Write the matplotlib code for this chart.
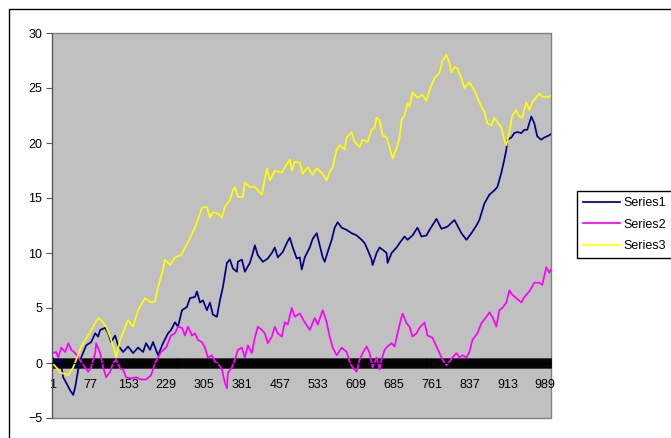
import matplotlib
matplotlib.use("Agg")
import matplotlib.pyplot as plt
from matplotlib.patches import Rectangle
import numpy as np

plt.rcParams['font.family'] = ['Liberation Sans', 'DejaVu Sans']

n_steps = 1000
tick_labels = [1, 77, 153, 229, 305, 381, 457, 533, 609, 685, 761, 837, 913, 989]

s1_steps = [1, 9, 17, 23, 29, 37, 43, 47, 53, 59, 69, 79, 87, 93, 97, 107, 113, 119, 127, 133,
            143, 153, 163, 173, 183, 189, 197, 203, 213, 223, 233, 239, 247, 253, 261, 271, 277,
            287, 291, 297, 303, 311, 317, 323, 331, 337, 343, 351, 357, 363, 371, 373, 381, 387,
            397, 403, 407, 413, 423, 433, 441, 447, 453, 463, 471, 477, 483, 491, 497, 501, 507,
            517, 523, 531, 537, 543, 547, 553, 561, 567, 573, 581, 591, 601, 611, 621, 627, 633,
            641, 643, 651, 657, 663, 671, 673, 681, 691, 697, 707, 713, 723, 733, 741, 751, 757,
            771, 781, 793, 807, 821, 831, 841, 851, 857, 867, 877, 887, 893, 901, 907, 911, 913,
            921, 927, 933, 941, 947, 953, 961, 967, 973, 981, 987, 997, 1000]
s1_vals = [0.5, 0.1, 0.3, -1.3, -1.8, -2.5, -2.9, -2.2, -0.6, 0.5, 1.6, 1.9, 2.7, 2.4, 3.0, 3.2,
           2.7, 1.9, 2.5, 1.6, 1.0, 1.5, 0.9, 1.4, 1.0, 1.8, 1.2, 1.9, 0.7, 1.8, 2.7, 3.0, 3.7,
           3.3, 4.8, 5.1, 5.9, 6.0, 6.5, 5.5, 5.7, 4.8, 5.5, 4.4, 4.2, 5.7, 6.9, 9.1, 9.4, 8.6,
           8.3, 9.2, 9.4, 8.3, 9.1, 10.0, 10.7, 9.8, 9.2, 9.5, 10.0, 10.5, 9.6, 10.1, 10.9, 11.4,
           10.5, 9.5, 9.6, 8.5, 9.6, 10.5, 11.3, 11.8, 10.7, 9.6, 9.2, 10.1, 11.2, 12.3, 12.8,
           12.3, 12.1, 11.8, 11.6, 11.2, 10.9, 10.3, 9.4, 8.9, 10.0, 10.5, 10.3, 10.0, 9.1, 10.0,
           10.5, 10.9, 11.5, 11.2, 11.6, 12.3, 11.5, 11.6, 12.1, 13.1, 12.2, 12.4, 13.0, 11.8,
           11.2, 11.8, 12.5, 13.0, 14.5, 15.3, 15.7, 16.0, 17.3, 18.5, 19.4, 20.3, 20.5, 20.9,
           21.0, 20.9, 21.2, 21.2, 22.4, 21.8, 20.6, 20.3, 20.5, 20.7, 20.8]

s2_steps = [1, 9, 13, 19, 27, 33, 39, 47, 53, 59, 67, 73, 79, 87, 89, 97, 103, 109, 117, 123,
            129, 137, 143, 149, 159, 169, 179, 189, 199, 207, 213, 219, 229, 239, 247, 253, 261,
            267, 273, 281, 287, 293, 301, 307, 313, 321, 327, 333, 341, 347, 351, 353, 361, 367,
            373, 381, 387, 393, 401, 407, 413, 421, 427, 433, 441, 447, 453, 461, 467, 473, 481,
            487, 497, 507, 517, 527, 533, 543, 551, 557, 563, 571, 581, 591, 597, 603, 611, 617,
            623, 631, 637, 643, 651, 657, 661, 667, 673, 681, 687, 693, 701, 703, 711, 717, 723,
            731, 737, 747, 753, 763, 771, 777, 783, 791, 797, 803, 811, 817, 823, 831, 837, 843,
            853, 861, 871, 877, 883, 891, 897, 903, 911, 917, 923, 931, 941, 947, 957, 967, 977,
            983, 991, 997, 1000]
s2_vals = [0.9, 1.0, 0.5, 1.4, 1.0, 1.8, 1.2, 0.9, 0.5, 0.1, -0.4, -0.8, -0.4, 0.9, 1.8, 0.9,
           -0.4, -1.3, -0.8, 0.0, 0.3, -0.5, -0.6, -1.3, -1.4, -1.3, -1.5, -1.5, -1.1, 0.0, 0.5,
           1.0, 1.4, 2.5, 2.7, 3.3, 3.2, 2.5, 3.3, 2.5, 2.7, 2.1, 1.9, 1.4, 0.5, 0.7, 0.1, 0.0,
           -0.6, -1.8, -2.3, -0.9, -0.4, 0.3, 1.2, 1.4, 0.5, 1.6, 0.9, 2.3, 3.3, 3.0, 2.7, 1.8,
           2.4, 3.3, 2.7, 2.4, 3.7, 3.5, 5.0, 4.2, 4.5, 3.7, 3.0, 4.1, 3.5, 4.8, 3.7, 2.4, 1.4,
           0.7, 1.4, 1.0, 0.1, -0.4, -0.8, 0.3, 0.9, 1.5, 0.9, -0.4, 0.5, -0.6, 0.3, 1.2, 1.5,
           1.8, 1.5, 2.7, 4.2, 4.5, 3.6, 3.3, 2.4, 2.7, 3.2, 3.7, 2.5, 2.3, 1.5, 0.9, 0.3, -0.2,
           0.1, 0.5, 0.9, 0.5, 0.7, 0.5, 1.0, 2.1, 2.7, 3.6, 4.2, 4.6, 4.2, 3.3, 4.8, 5.0, 5.5,
           6.6, 6.2, 5.9, 5.5, 6.0, 6.5, 7.3, 7.3, 7.1, 8.7, 8.2, 8.5]

s3_steps = [1, 19, 33, 43, 49, 59, 73, 93, 99, 109, 117, 127, 129, 137, 153, 163, 173, 187, 199,
            207, 213, 223, 227, 237, 247, 259, 273, 287, 301, 311, 317, 323, 333, 341, 347, 357,
            363, 367, 373, 383, 387, 397, 407, 421, 431, 437, 447, 461, 467, 477, 481, 487, 497,
            503, 513, 523, 531, 541, 551, 557, 563, 571, 577, 587, 591, 601, 607, 617, 623, 633,
            641, 647, 651, 657, 663, 671, 677, 683, 691, 697, 701, 707, 713, 717, 723, 733, 743,
            751, 757, 767, 777, 783, 791, 797, 801, 807, 813, 821, 827, 837, 847, 853, 861, 867,
            873, 881, 887, 893, 901, 907, 911, 917, 923, 931, 937, 943, 951, 957, 963, 977, 983,
            997, 1000]
s3_vals = [0.0, -0.9, -1.1, -0.4, 0.3, 1.5, 2.5, 4.1, 3.9, 3.3, 2.4, 1.0, 0.5, 2.1, 3.9, 3.3,
           4.8, 5.9, 5.5, 5.6, 6.9, 8.5, 9.4, 8.9, 9.6, 9.8, 11.0, 12.3, 14.1, 14.2, 13.2, 13.7,
           13.6, 13.2, 14.2, 14.8, 15.7, 16.0, 15.1, 15.1, 16.4, 16.0, 16.0, 15.3, 17.7, 16.6,
           17.5, 17.3, 17.8, 18.5, 17.5, 18.3, 18.2, 17.2, 17.8, 17.1, 17.7, 17.3, 16.6, 17.4,
           17.8, 19.4, 19.8, 19.4, 20.5, 21.0, 20.1, 19.6, 20.3, 20.1, 21.2, 21.4, 22.3, 22.1,
           20.7, 20.5, 19.6, 18.6, 19.5, 20.5, 22.1, 22.5, 23.6, 23.3, 24.6, 24.1, 24.4, 23.8,
           24.8, 25.9, 26.4, 27.5, 28.0, 27.3, 26.4, 26.9, 26.8, 25.9, 25.0, 25.5, 24.8, 24.1,
           23.3, 22.8, 21.8, 21.6, 22.3, 21.9, 21.4, 20.3, 19.8, 21.0, 22.5, 23.0, 22.4, 22.3,
           23.7, 23.0, 23.7, 24.5, 24.2, 24.2, 24.3]

series = [("Series1", s1_steps, s1_vals, "#000080"),
          ("Series2", s2_steps, s2_vals, "#FF00FF"),
          ("Series3", s3_steps, s3_vals, "#FFFF00")]

fig = plt.figure(figsize=(6.71, 4.38), dpi=100)
fig.patch.set_facecolor("white")

# outer chart frame
fig.patches.append(Rectangle((8.5 / 671, -0.2), 1.2, 1.2 - 8.5 / 438, transform=fig.transFigure,
                             fill=False, edgecolor="black", linewidth=1, clip_on=False))

ax = fig.add_axes([52 / 671, 1 - 418 / 438, 499 / 671, 385 / 438])
ax.set_facecolor("#C0C0C0")
ax.patch.set_edgecolor("#808080")
ax.patch.set_linewidth(1)

for name, xs, ys, col in series:
    ax.plot(xs, ys, color=col, lw=1.25, label=name)

ax.set_xlim(0.5, n_steps + 0.5)
ax.set_ylim(-5, 30)
ax.set_yticks(np.arange(-5, 31, 5))

ax.spines['top'].set_visible(False)
ax.spines['right'].set_visible(False)
ax.spines['left'].set_color("#555555")
ax.spines['bottom'].set_position(('data', 0))
ax.spines['bottom'].set_color("black")

ax.set_xticks(tick_labels)
ax.set_xticklabels([str(t) for t in tick_labels])
ax.set_xticks(np.arange(1, n_steps + 1), minor=True)
ax.tick_params(axis='x', which='both', direction='inout', length=7, width=0.6,
               color='black', labelsize=9, pad=8)
ax.tick_params(axis='y', direction='out', length=4, width=0.8, color='#555555',
               labelsize=9, pad=3)

fig.legend(loc='upper left', bbox_to_anchor=(577 / 671, 1 - 191 / 438), borderaxespad=0,
           fancybox=False, edgecolor='black', framealpha=1, fontsize=9, handlelength=2.9,
           labelspacing=0.75, borderpad=0.5, handletextpad=0.3)

fig.savefig("out.png", dpi=100)
